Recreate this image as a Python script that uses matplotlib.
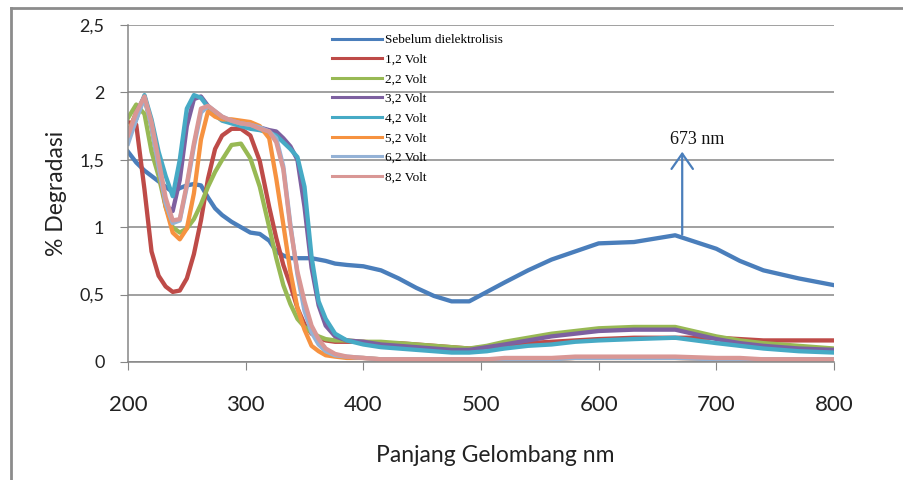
import matplotlib
matplotlib.use("Agg")
import matplotlib.pyplot as plt
from matplotlib.lines import Line2D

# wavelength grid (nm)
wl = [200, 207, 214, 220, 226, 232, 238, 244, 250, 256, 262, 268, 274, 280, 288,
      296, 304, 312, 320, 326, 332, 338, 344, 350, 356, 362, 368, 376, 386, 400,
      415, 430, 445, 460, 475, 490, 505, 520, 540, 560, 580, 600, 630, 665, 700,
      720, 740, 770, 800]

sebelum = [1.56, 1.48, 1.42, 1.38, 1.34, 1.30, 1.26, 1.29, 1.31, 1.32, 1.31, 1.22, 1.14, 1.09, 1.04,
           1.00, 0.96, 0.95, 0.90, 0.82, 0.79, 0.77, 0.77, 0.77, 0.77, 0.76, 0.75, 0.73, 0.72, 0.71,
           0.68, 0.62, 0.55, 0.49, 0.45, 0.45, 0.52, 0.59, 0.68, 0.76, 0.82, 0.88, 0.89, 0.94, 0.84,
           0.75, 0.68, 0.62, 0.57]
v12 = [1.78, 1.76, 1.28, 0.82, 0.64, 0.56, 0.52, 0.53, 0.62, 0.80, 1.05, 1.36, 1.58, 1.68, 1.73,
       1.73, 1.68, 1.49, 1.15, 0.92, 0.72, 0.57, 0.40, 0.28, 0.21, 0.18, 0.16, 0.15, 0.15, 0.15,
       0.14, 0.14, 0.13, 0.12, 0.11, 0.10, 0.11, 0.12, 0.14, 0.15, 0.16, 0.17, 0.18, 0.18, 0.18,
       0.17, 0.16, 0.16, 0.16]
v22 = [1.81, 1.91, 1.84, 1.56, 1.38, 1.15, 1.00, 0.96, 0.99, 1.06, 1.17, 1.30, 1.41, 1.50, 1.61,
       1.62, 1.51, 1.30, 1.00, 0.77, 0.57, 0.43, 0.32, 0.26, 0.22, 0.19, 0.17, 0.16, 0.16, 0.15,
       0.15, 0.14, 0.13, 0.12, 0.11, 0.10, 0.12, 0.15, 0.18, 0.21, 0.23, 0.25, 0.26, 0.26, 0.19,
       0.16, 0.14, 0.12, 0.10]
v32 = [1.70, 1.85, 1.97, 1.75, 1.45, 1.16, 1.12, 1.35, 1.75, 1.95, 1.97, 1.90, 1.84, 1.80, 1.78,
       1.77, 1.76, 1.74, 1.72, 1.71, 1.66, 1.60, 1.50, 1.15, 0.70, 0.42, 0.27, 0.19, 0.16, 0.15,
       0.13, 0.12, 0.11, 0.10, 0.09, 0.09, 0.11, 0.13, 0.16, 0.19, 0.21, 0.23, 0.24, 0.24, 0.17,
       0.14, 0.12, 0.10, 0.09]
v42 = [1.65, 1.80, 1.98, 1.80, 1.56, 1.38, 1.23, 1.50, 1.88, 1.98, 1.96, 1.89, 1.83, 1.79, 1.77,
       1.75, 1.73, 1.72, 1.70, 1.68, 1.63, 1.58, 1.52, 1.30, 0.78, 0.45, 0.32, 0.21, 0.16, 0.13,
       0.11, 0.10, 0.09, 0.08, 0.07, 0.07, 0.08, 0.10, 0.12, 0.13, 0.15, 0.16, 0.17, 0.18, 0.14,
       0.12, 0.10, 0.08, 0.07]
v52 = [1.70, 1.85, 1.95, 1.75, 1.45, 1.15, 0.96, 0.91, 0.99, 1.25, 1.65, 1.86, 1.82, 1.80, 1.80,
       1.79, 1.78, 1.75, 1.66, 1.36, 1.02, 0.67, 0.40, 0.24, 0.12, 0.08, 0.05, 0.04, 0.03, 0.03,
       0.02, 0.02, 0.02, 0.02, 0.02, 0.02, 0.02, 0.02, 0.02, 0.02, 0.03, 0.03, 0.03, 0.03, 0.02,
       0.02, 0.02, 0.02, 0.02]
v62 = [1.62, 1.80, 1.96, 1.75, 1.45, 1.18, 1.03, 1.05, 1.30, 1.60, 1.85, 1.90, 1.86, 1.82, 1.79,
       1.77, 1.76, 1.74, 1.71, 1.66, 1.45, 1.02, 0.65, 0.38, 0.22, 0.13, 0.08, 0.05, 0.04, 0.03,
       0.02, 0.02, 0.02, 0.02, 0.02, 0.02, 0.02, 0.02, 0.02, 0.02, 0.03, 0.03, 0.03, 0.03, 0.02,
       0.02, 0.02, 0.02, 0.02]
v82 = [1.68, 1.85, 1.97, 1.78, 1.50, 1.22, 1.05, 1.06, 1.32, 1.62, 1.88, 1.90, 1.86, 1.82, 1.79,
       1.77, 1.76, 1.73, 1.71, 1.63, 1.43, 1.00, 0.67, 0.45, 0.27, 0.17, 0.10, 0.06, 0.04, 0.03,
       0.02, 0.02, 0.02, 0.02, 0.02, 0.02, 0.02, 0.03, 0.03, 0.03, 0.04, 0.04, 0.04, 0.04, 0.03,
       0.03, 0.02, 0.02, 0.02]

labels = ["Sebelum dielektrolisis", "1,2 Volt", "2,2 Volt", "3,2 Volt",
          "4,2 Volt", "5,2 Volt", "6,2 Volt", "8,2 Volt"]
colors = ["#4A7EBB", "#BE4B48", "#98B954", "#7D60A0",
          "#46AAC5", "#F69240", "#94B2D6", "#D99795"]
series = [sebelum, v12, v22, v32, v42, v52, v62, v82]

peak_nm = 673

fig = plt.figure(figsize=(9.04, 4.8), dpi=100)
ax = fig.add_axes([128/904, 1-362/480, (834-128)/904, (362-25)/480])

for ys, c in zip(series, colors):
    ax.plot(wl, ys, color=c, lw=3.1, solid_joinstyle="round")

ax.set_xlim(200, 800)
ax.set_ylim(0, 2.5)
ax.set_xticks([200, 300, 400, 500, 600, 700, 800])
ax.set_yticks([0, 0.5, 1, 1.5, 2, 2.5])
ax.set_yticklabels(["0", "0,5", "1", "1,5", "2", "2,5"])
ax.yaxis.grid(True, color="#868686", lw=1.1)
ax.set_axisbelow(True)
for s in ["top", "right"]:
    ax.spines[s].set_visible(False)
for s in ["left", "bottom"]:
    ax.spines[s].set_color("#868686")
    ax.spines[s].set_linewidth(1.1)
ax.tick_params(axis="x", length=6, color="#868686", pad=18, labelsize=16,
               labelcolor="#222222")
ax.tick_params(axis="y", length=6, color="#868686", pad=11, labelsize=13,
               labelcolor="#222222")
for t in ax.get_xticklabels() + ax.get_yticklabels():
    t.set_family("Lato")

fig.text(495/904, 1-456/480, "Panjang Gelombang nm", ha="center", va="center",
         fontsize=16.5, family="Lato", color="#222222")
fig.text(57/904, 1-193/480, "% Degradasi", ha="center", va="center",
         rotation=90, fontsize=16.5, family="Lato", color="#222222")

# peak annotation
ax.annotate("", xy=(671, 1.56), xytext=(671, 0.945),
            arrowprops=dict(arrowstyle="->,head_length=0.5,head_width=0.35",
                            color="#4A7EBB", lw=1.6, mutation_scale=22,
                            shrinkA=0, shrinkB=0))
ax.text(684, 1.65, "%d nm" % peak_nm, ha="center", va="center",
        fontsize=13, family="Liberation Serif", color="#111111")

handles = [Line2D([], [], color=c, lw=2.2) for c in colors]
ax.legend(handles, labels, loc="upper left", bbox_to_anchor=(332/904, 1-34/480),
          bbox_transform=fig.transFigure, frameon=False, borderpad=0,
          borderaxespad=0, handlelength=3.8, handletextpad=0.25,
          labelspacing=0.56, prop={"family": "Liberation Serif", "size": 9.5})

# outer chart border (top and left edges visible)
fig.add_artist(Line2D([11/904, 1], [1-8/480, 1-8/480], color="#8c8c8c", lw=2,
                      transform=fig.transFigure))
fig.add_artist(Line2D([11/904, 11/904], [0, 1-8/480], color="#8c8c8c", lw=2,
                      transform=fig.transFigure))

fig.savefig("out.png", dpi=100)
